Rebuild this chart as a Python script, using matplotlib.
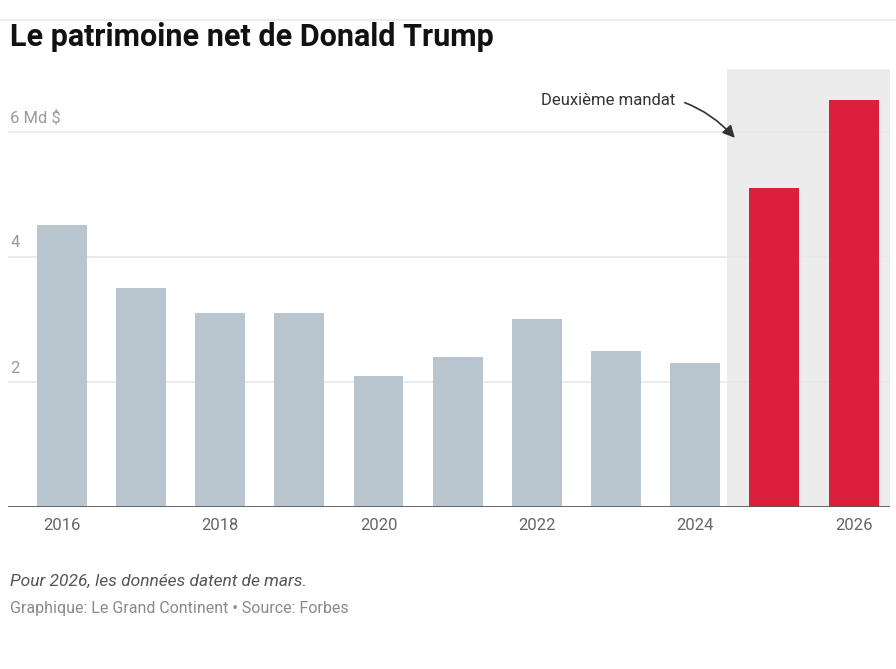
import matplotlib
matplotlib.use("Agg")
from matplotlib import pyplot as plt
from matplotlib.lines import Line2D

# Net worth of Donald Trump, in billions of dollars
years = [2016, 2017, 2018, 2019, 2020, 2021, 2022, 2023, 2024, 2025, 2026]
worth = [4.5, 3.5, 3.1, 3.1, 2.1, 2.4, 3.0, 2.5, 2.3, 5.1, 6.5]
second_term = [False] * 9 + [True, True]
tick_years = [2016, 2018, 2020, 2022, 2024, 2026]
y_ticks = [2, 4, 6]
y_labels = ["2", "4", "6 Md $"]

grey_bar = "#b8c5cf"
red_bar = "#dc1f3c"
band = "#ececec"

plt.rcParams['font.family'] = ['Roboto', 'DejaVu Sans']

fig = plt.figure(figsize=(8.96, 6.69), dpi=100)
ax = fig.add_axes([8 / 896, 162 / 669, 882 / 896, 438 / 669])

# shaded area for the second mandate
ax.axvspan(2024.4, 2026.46, ymin=0, ymax=1, color=band, lw=0, zorder=0)

# gridlines above the band, below the bars
for v in y_ticks:
    ax.axhline(v, color="#e8e8e8", lw=1.2, zorder=1)

colors = [red_bar if s else grey_bar for s in second_term]
ax.bar(years, worth, width=0.63, color=colors, zorder=2)

ax.set_xlim(2015.32, 2026.46)
ax.set_ylim(0, 7)

for s in ax.spines.values():
    s.set_visible(False)
ax.axhline(0, color="#5a5a5a", lw=2, zorder=3)

ax.set_yticks([])
for v, lab in zip(y_ticks, y_labels):
    ax.text(2015.35, v + 0.1, lab, fontsize=12, color="#9a9a9a",
            ha="left", va="bottom", zorder=4)

ax.set_xticks(tick_years)
ax.set_xticklabels([str(y) for y in tick_years], fontsize=12, color="#666666")
ax.tick_params(axis="x", length=0, pad=8)

ax.annotate("Deuxième mandat", xy=(2024.50, 5.90), xytext=(2023.75, 6.50),
            fontsize=12, color="#333333", ha="right", va="center",
            arrowprops=dict(arrowstyle="-|>,head_length=0.6,head_width=0.3",
                            color="#333333", lw=1.2,
                            connectionstyle="arc3,rad=-0.3",
                            shrinkA=5, shrinkB=0))

# top rule, title and footer
fig.add_artist(Line2D([0, 1], [1 - 20 / 669, 1 - 20 / 669], color="#ececec", lw=1.5))
fig.text(10 / 896, 1 - 37 / 669, "Le patrimoine net de Donald Trump",
         fontsize=22, fontweight="bold", color="#111111", va="center", ha="left")
fig.text(10 / 896, 1 - 581 / 669, "Pour 2026, les données datent de mars.",
         fontsize=12.5, style="italic", color="#555555", va="center", ha="left")
fig.text(10 / 896, 1 - 609 / 669, "Graphique: Le Grand Continent • Source: Forbes",
         fontsize=11.5, color="#8a8a8a", va="center", ha="left")

fig.savefig("out.png", dpi=100)
